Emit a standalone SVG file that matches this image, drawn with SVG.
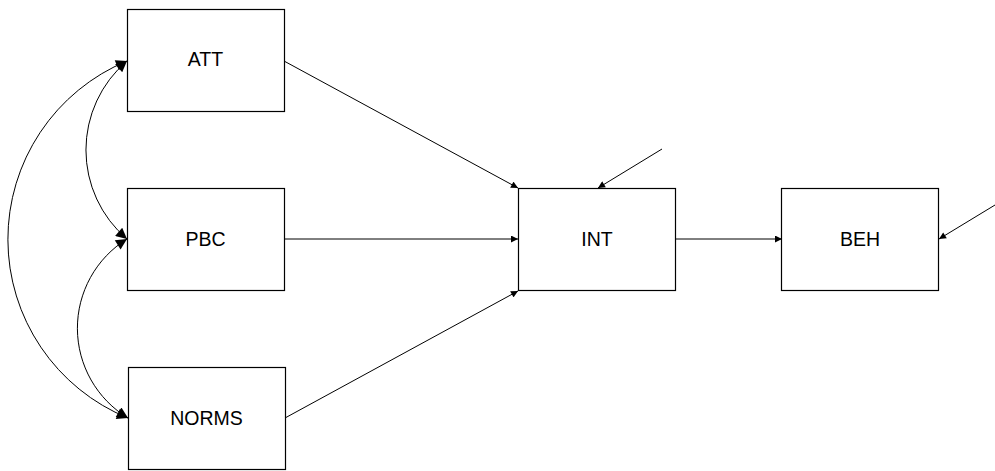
<svg xmlns="http://www.w3.org/2000/svg" width="995" height="471" viewBox="0 0 995 471">
  <style>
    .box rect { fill: #fff; stroke: #000; stroke-width: 1.2; }
    .box text { font-family: "Liberation Sans", Arial, sans-serif; font-size: 19.5px; fill: #000; text-anchor: middle; }
    .path { fill: none; stroke: #000; stroke-width: 1; }
    .direct { marker-end: url(#arrowSmall); }
    .cov { marker-start: url(#arrowBig); marker-end: url(#arrowBig); }
  </style>
  <defs>
    <marker id="arrowSmall" viewBox="0 0 10 10" refX="10" refY="5" markerWidth="8" markerHeight="7" markerUnits="userSpaceOnUse" orient="auto">
      <path d="M0,0 L10,5 L0,10 Z" fill="#000"/>
    </marker>
    <marker id="arrowBig" viewBox="0 0 10 10" refX="10" refY="5" markerWidth="14" markerHeight="11" markerUnits="userSpaceOnUse" orient="auto-start-reverse">
      <path d="M0,0 L10,5 L0,10 Z" fill="#000"/>
    </marker>
  </defs>

  <g id="connectors">
    <!-- directed paths -->
    <line class="path direct" x1="284" y1="61" x2="518" y2="188"/>
    <line class="path direct" x1="284" y1="239" x2="518" y2="239"/>
    <line class="path direct" x1="285" y1="418" x2="518" y2="291"/>
    <line class="path direct" x1="675" y1="239" x2="782" y2="239"/>
    <!-- disturbance terms -->
    <line class="path direct" x1="662" y1="149" x2="598" y2="188"/>
    <line class="path direct" x1="995" y1="205" x2="939" y2="239"/>
    <!-- covariances -->
    <path class="path cov" d="M127,61 A117,117 0 0 0 127,239"/>
    <path class="path cov" d="M127,239 A105,105 0 0 0 128,418"/>
    <path class="path cov" d="M127,61 A193,193 0 0 0 128,418"/>
  </g>

  <g id="ATT" class="box">
    <rect x="127.5" y="9.5" width="157" height="102"/>
    <text x="205.5" y="66">ATT</text>
  </g>
  <g id="PBC" class="box">
    <rect x="127.5" y="188.5" width="157" height="102"/>
    <text x="205.5" y="246">PBC</text>
  </g>
  <g id="NORMS" class="box">
    <rect x="128.5" y="367.5" width="157" height="102"/>
    <text x="206.5" y="425">NORMS</text>
  </g>
  <g id="INT" class="box">
    <rect x="518.5" y="188.5" width="157" height="102"/>
    <text x="597" y="246">INT</text>
  </g>
  <g id="BEH" class="box">
    <rect x="781.5" y="188.5" width="157" height="102"/>
    <text x="860" y="246">BEH</text>
  </g>
</svg>
